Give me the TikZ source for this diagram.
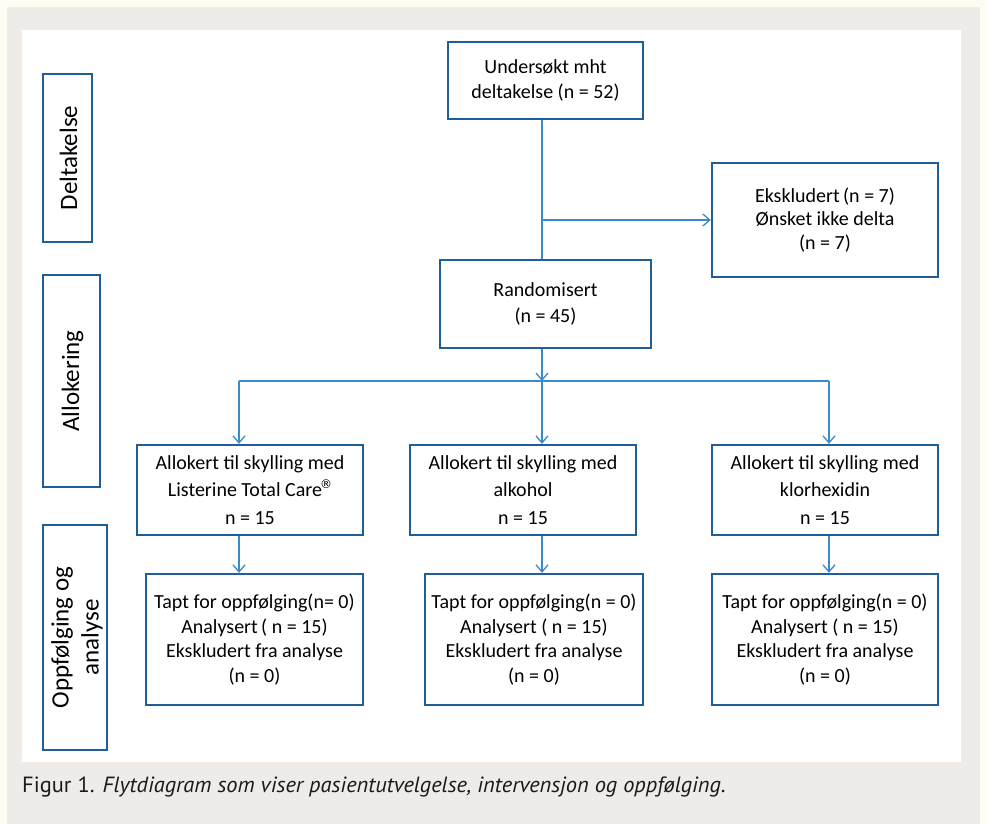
\documentclass[tikz,border=0pt]{standalone}
\usepackage{fontspec}
\setmainfont{Carlito}
\newfontfamily\capfont[FakeStretch=1.02]{PT Sans}
\newfontfamily\symfont{DejaVu Sans}
\usetikzlibrary{arrows.meta}
\definecolor{cream}{HTML}{FDFDF3}
\definecolor{panel}{HTML}{EEEBE9}
\definecolor{boxblue}{HTML}{1F5E96}
\definecolor{lineblue}{HTML}{3A8BCD}
\definecolor{captxt}{HTML}{1A1A1A}
\tikzset{
  flowbox/.style={draw=boxblue, line width=2.3pt, fill=white, align=center, inner sep=0pt,
    font=\fontsize{20}{25}\selectfont, text=black},
  sidebox/.style={draw=boxblue, line width=2.3pt, fill=white, align=center, inner sep=0pt},
  sidetext/.style={rotate=90, align=center, font=\fontsize{25}{30}\selectfont, text=black},
  conn/.style={draw=lineblue, line width=1.3pt},
  arr/.style={conn, -{Straight Barb[length=7pt,width=12pt,line width=1.3pt]}}
}
\begin{document}
\begin{tikzpicture}[x=1pt,y=-1pt]
\useasboundingbox (0,0) rectangle (988,824);
\fill[cream] (0,0) rectangle (988,824);
\fill[panel] (7,7) rectangle (980,824);
\fill[white] (22,30) rectangle (961,762);

% side labels
\node[sidebox, minimum width=49pt, minimum height=168pt] (sdelt) at (67.5,158) {};
\node[sidetext] (tdelt) at ([xshift=1pt]sdelt.center) {Deltakelse};
\node[sidebox, minimum width=57pt, minimum height=212pt] (sallok) at (71.5,381) {};
\node[sidetext] (tallok) at ([xshift=1pt]sallok.center) {Allokering};
\node[sidebox, minimum width=64pt, minimum height=225pt] (soppf) at (75,637.5) {};
\node[sidetext] (toppf) at ([xshift=2pt]soppf.center) {Oppfølging og\\analyse};

% flow boxes
\node[flowbox, minimum width=195pt, minimum height=77pt] (top) at (545.5,80.5)
  {Undersøkt mht\\deltakelse (n = 52)};
\node[flowbox, minimum width=226pt, minimum height=114pt, font=\fontsize{20}{23.5}\selectfont] (excl) at (825,220)
  {Ekskludert\,(n = 7)\\Ønsket ikke delta\\(n = 7)};
\node[flowbox, minimum width=211pt, minimum height=88pt, font=\fontsize{20}{26}\selectfont] (rand) at (545.5,304)
  {Randomisert\\(n = 45)};

\node[flowbox, minimum width=226pt, minimum height=90pt, font=\fontsize{20}{27.5}\selectfont] (al1) at (250,490)
  {Allokert til skylling med\\Listerine Total Care\kern-2pt\raisebox{0.4em}{\symfont\fontsize{12}{12}\selectfont ®}\\n = 15};
\node[flowbox, minimum width=226pt, minimum height=90pt, font=\fontsize{20}{27.5}\selectfont] (al2) at (523,490)
  {Allokert til skylling med\\alkohol\\n = 15};
\node[flowbox, minimum width=226pt, minimum height=90pt, font=\fontsize{20}{27.5}\selectfont] (al3) at (825,490)
  {Allokert til skylling med\\klorhexidin\\n = 15};

\node[flowbox, minimum width=217pt, minimum height=131pt, font=\fontsize{20}{24.5}\selectfont] (b1) at (254.5,639.5)
  {Tapt for oppfølging(n= 0)\\Analysert\,( n = 15)\\Ekskludert fra analyse\\(n = 0)};
\node[flowbox, minimum width=218pt, minimum height=131pt, font=\fontsize{20}{24.5}\selectfont] (b2) at (534,639.5)
  {Tapt for oppfølging(n = 0)\\Analysert ( n = 15)\\Ekskludert fra analyse\\(n = 0)};
\node[flowbox, minimum width=226pt, minimum height=131pt, font=\fontsize{20}{24.5}\selectfont] (b3) at (825,639.5)
  {Tapt for oppfølging(n = 0)\\Analysert ( n = 15)\\Ekskludert fra analyse\\(n = 0)};

% connectors
\coordinate (spine) at (542,0);
\coordinate (hL) at (239,381);
\coordinate (hR) at (829,381);
\draw[conn] (top.south -| spine) -- (rand.north -| spine);
\draw[arr] (excl.west -| spine) -- (excl.west);
\draw[arr] (rand.south -| spine) -- (spine |- hL);
\draw[conn] (hL) -- (hR);
\draw[arr] (hL) -- (hL |- al1.north);
\draw[arr] (spine |- hL) -- (spine |- al2.north);
\draw[arr] (hR) -- (hR |- al3.north);
\draw[arr] (al1.south -| hL) -- (b1.north -| hL);
\draw[arr] (al2.south -| spine) -- (b2.north -| spine);
\draw[arr] (al3.south -| hR) -- (b3.north -| hR);

% caption
\node[anchor=base west, inner sep=0pt, text=captxt, font=\capfont\fontsize{22}{26}\selectfont] (cap) at (22,792.5)
  {Figur 1. \itshape Flytdiagram som viser pasientutvelgelse, intervensjon og oppfølging.};
\end{tikzpicture}
\end{document}
